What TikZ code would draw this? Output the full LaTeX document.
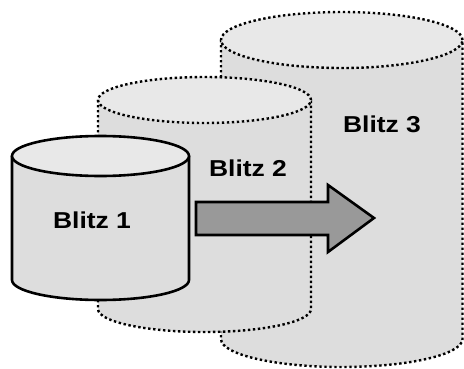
\documentclass[tikz,border=0pt]{standalone}
\usepackage{fontspec}
\setmainfont{Liberation Sans}
\definecolor{bodygray}{HTML}{DDDDDD}
\definecolor{topgray}{HTML}{E8E8E8}
\definecolor{arrowgray}{HTML}{999999}
\begin{document}
\begin{tikzpicture}[x=1pt, y=1pt,
  dots/.style={line width=2.4pt, dash pattern=on 2.4pt off 2.6pt},
  solidline/.style={line width=2.6pt, line join=round},
  blitzlabel/.style={font=\fontsize{23}{23}\selectfont\bfseries, xscale=1.15, transform shape}]
  \useasboundingbox (0,0) rectangle (464,368);
  % Blitz 3, back
  \fill[bodygray] (221,328) -- (221,29) arc[start angle=180, end angle=360, x radius=120.75, y radius=28] -- (462.5,328) -- cycle;
  \draw[dots] (221,328) -- (221,29) arc[start angle=180, end angle=360, x radius=120.75, y radius=28] -- (462.5,328);
  \filldraw[dots, fill=topgray] (341.75,328) ellipse[x radius=120.75, y radius=28];
  % Blitz 2, middle
  \fill[bodygray] (98,268) -- (98,59) arc[start angle=180, end angle=360, x radius=106.5, y radius=23] -- (311,268) -- cycle;
  \draw[dots] (98,268) -- (98,59) arc[start angle=180, end angle=360, x radius=106.5, y radius=23] -- (311,268);
  \filldraw[dots, fill=topgray] (204.5,268) ellipse[x radius=106.5, y radius=23];
  % arrow
  \filldraw[solidline, line join=miter, fill=arrowgray] (196,166) -- (328,166) -- (328,183) -- (374,150) -- (328,116) -- (328,133) -- (196,133) -- cycle;
  % Blitz 1, front
  \filldraw[solidline, fill=bodygray] (12,212) -- (12,88) arc[start angle=180, end angle=360, x radius=88.5, y radius=20] -- (189,212) -- cycle;
  \filldraw[solidline, fill=topgray] (100.5,212) ellipse[x radius=88.5, y radius=20];
  \node[blitzlabel] (b1) at (92,148) {Blitz 1};
  \node[blitzlabel] (b2) at (248,200) {Blitz 2};
  \node[blitzlabel] (b3) at (382,244) {Blitz 3};
\end{tikzpicture}
\end{document}
